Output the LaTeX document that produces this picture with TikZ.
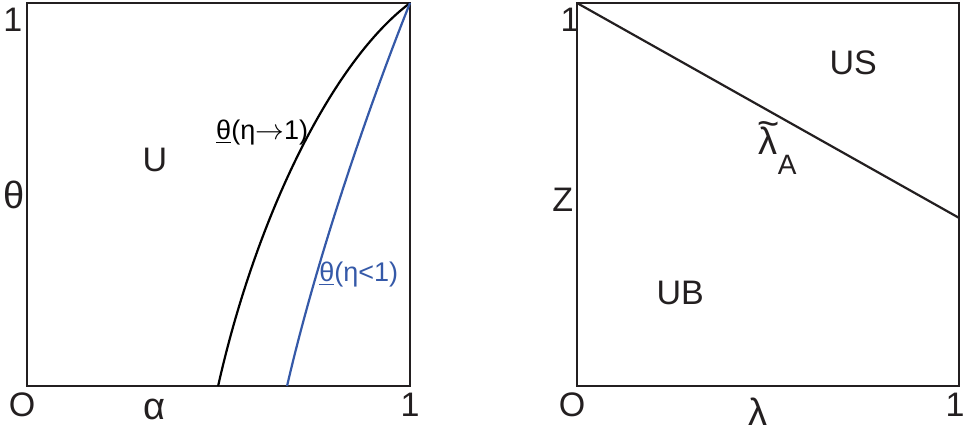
\documentclass[tikz,border=0pt]{standalone}
\usepackage{fontspec}
\setmainfont{Liberation Sans}
\usepackage{tikz}
\usetikzlibrary{positioning}
\definecolor{CurveBlue}{HTML}{3559A8}
\definecolor{InkGray}{HTML}{231F20}

\begin{document}
\begin{tikzpicture}[
  x=0.5pt, y=0.5pt,
  frame/.style={draw=InkGray, line width=0.7pt},
  curve/.style={line width=1.1pt},
  axislabel/.style={font=\fontsize{17}{19}\selectfont, text=InkGray, inner sep=0pt},
  greeklabel/.style={font=\fontsize{19}{21}\selectfont, text=InkGray, inner sep=0pt},
  region/.style={font=\fontsize{17}{19}\selectfont, text=InkGray, inner sep=0pt},
  curvelabel/.style={font=\fontsize{13.5}{15}\selectfont, inner sep=0pt}
]
\useasboundingbox (0,0) rectangle (965,430);

% left panel: alpha vs theta
\begin{scope}[shift={(27,44)}, x=191.5pt, y=191.5pt]
  \draw[frame] (0,0) rectangle (1,1);
  \draw[curve, black] (0.499,0) .. controls (0.60,0.45) and (0.80,0.85) .. (1,1);
  \draw[curve, CurveBlue] (0.679,0) .. controls (0.76,0.35) and (0.90,0.75) .. (1,1);
  \node[axislabel] (ltop) at (-0.037,0.956) {1};
  \node[greeklabel] (ltheta) at (-0.034,0.499) {θ};
  \node[axislabel] (lorig) at (-0.013,-0.050) {O};
  \node[greeklabel] (lalpha) at (0.334,-0.062) {α};
  \node[axislabel] (lone) at (1.0,-0.050) {1};
  \node[region] (lU) at (0.334,0.590) {U};
  \node[curvelabel] (lblack) at (0.614,0.662) {\underline{θ}(η$\rightarrow$1)};
  \node[curvelabel, text=CurveBlue] (lblue) at (0.866,0.292) {\underline{θ}(η<1)};
\end{scope}

% right panel: lambda vs Z
\begin{scope}[shift={(577,44)}, x=191pt, y=191.5pt]
  \draw[frame] (0,0) rectangle (1,1);
  \coordinate (zstart) at (0,1);
  \coordinate (zend) at (1,0.439);
  \draw[curve, InkGray] (zstart) -- (zend);
  \node[axislabel] (rtop) at (-0.018,0.956) {1};
  \node[axislabel] (rZ) at (-0.037,0.486) {Z};
  \node[axislabel] (rorig) at (-0.013,-0.050) {O};
  \node[greeklabel] (rlambda) at (0.474,-0.066) {λ};
  \node[axislabel] (rone) at (0.990,-0.050) {1};
  \node[region] (rUS) at (0.723,0.843) {US};
  \node[region] (rUB) at (0.270,0.243) {UB};
  \node[greeklabel, anchor=base west] (rlamA) at (0.475,0.605)
    {\ooalign{λ\cr\hidewidth\raisebox{0.46em}{\textasciitilde}\hidewidth\cr}\raisebox{-10pt}{\fontsize{14}{15}\selectfont A}};
\end{scope}
\end{tikzpicture}
\end{document}
